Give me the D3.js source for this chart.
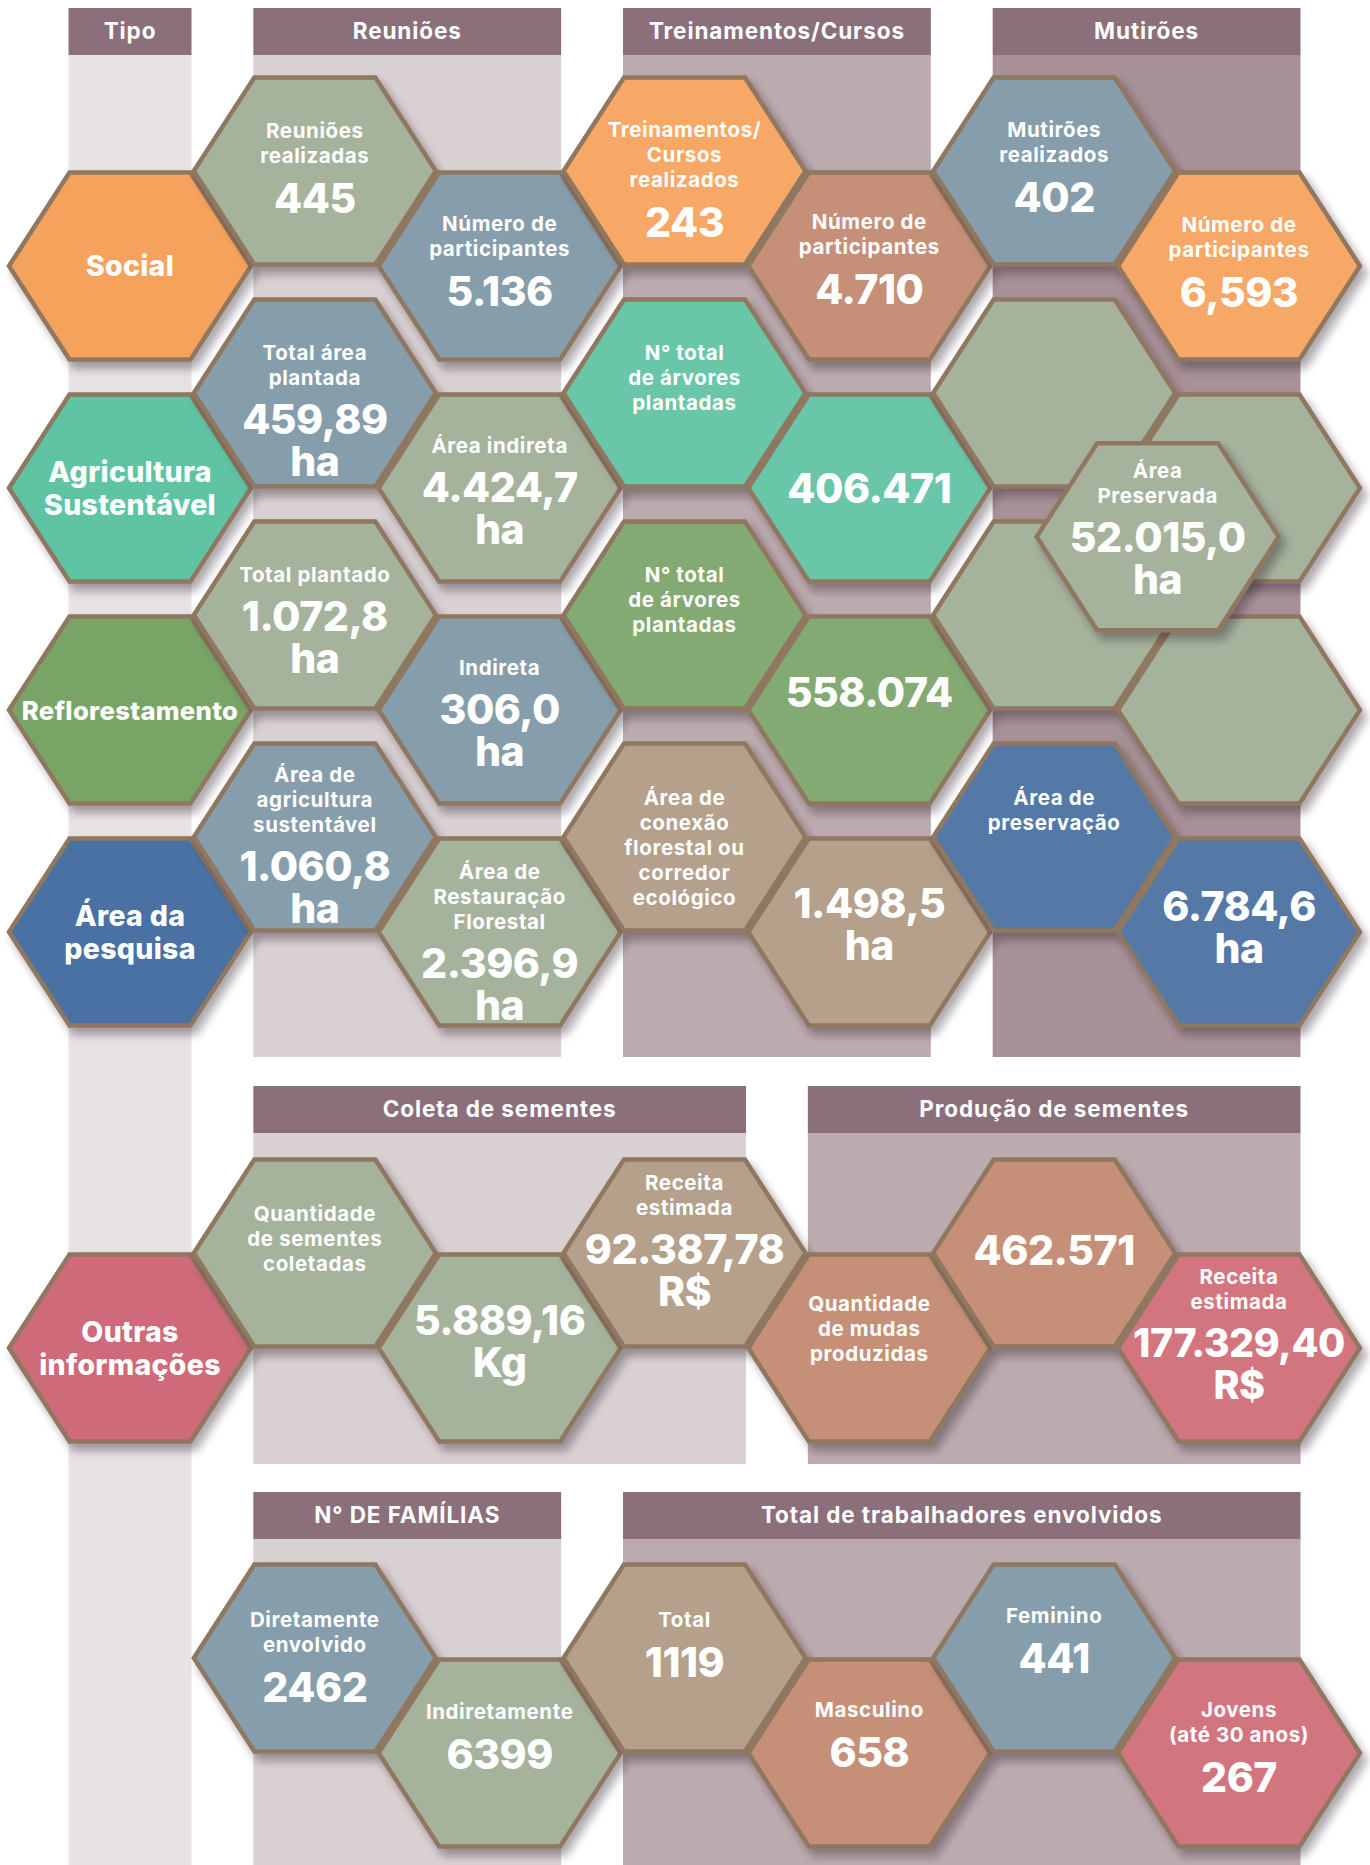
<!DOCTYPE html>
<html><head><meta charset="utf-8">
<script src="https://cdn.jsdelivr.net/npm/d3@7"></script>
<style>
html,body{margin:0;padding:0;background:#fff;}
svg{display:block;}
text{font-family:Inter,"Open Sans",sans-serif;fill:#fff;}
.vbox{font-family:Inter,"Open Sans",sans-serif;color:#fff;font-weight:800;text-align:center;white-space:pre;letter-spacing:-0.5px;margin:0;padding:0;}
</style></head><body><div id="chart"></div>
<script>
// ---------- DATA ----------
const headersTop = ["Tipo", "Reuniões", "Treinamentos/Cursos", "Mutirões"];
const headersMid = ["Coleta de sementes", "Produção de sementes"];
const headersBottom = ["N° DE FAMÍLIAS", "Total de trabalhadores envolvidos"];

const tipos = ["Social", "Agricultura\nSustentável", "Reflorestamento", "Área da\npesquisa", "Outras\ninformações"];
const tipoTones = ["orange", "teal", "green", "blue", "pink"];

const rowSocial = [
  {label: "Reuniões\nrealizadas", value: "445", tone: "sage"},
  {label: "Número de\nparticipantes", value: "5.136", tone: "slate"},
  {label: "Treinamentos/\nCursos\nrealizados", value: "243", tone: "orange2"},
  {label: "Número de\nparticipantes", value: "4.710", tone: "terra"},
  {label: "Mutirões\nrealizados", value: "402", tone: "slate"},
  {label: "Número de\nparticipantes", value: "6,593", tone: "orange2"}
];
const rowAgricultura = [
  {label: "Total área\nplantada", value: "459,89\nha", tone: "slate"},
  {label: "Área indireta", value: "4.424,7\nha", tone: "sage"},
  {label: "N° total\nde árvores\nplantadas", value: "", tone: "teal2"},
  {label: "", value: "406.471", tone: "teal2"},
  {label: "", value: "", tone: "sage"},
  {label: "", value: "", tone: "sage"}
];
const rowReflorestamento = [
  {label: "Total plantado", value: "1.072,8\nha", tone: "sage"},
  {label: "Indireta", value: "306,0\nha", tone: "slate"},
  {label: "N° total\nde árvores\nplantadas", value: "", tone: "green2"},
  {label: "", value: "558.074", tone: "green2"},
  {label: "", value: "", tone: "sage"},
  {label: "", value: "", tone: "sage"}
];
const rowPesquisa = [
  {label: "Área de\nagricultura\nsustentável", value: "1.060,8\nha", tone: "slate"},
  {label: "Área de\nRestauração\nFlorestal", value: "2.396,9\nha", tone: "sage"},
  {label: "Área de\nconexão\nflorestal ou\ncorredor\necológico", value: "", tone: "tan"},
  {label: "", value: "1.498,5\nha", tone: "tan"},
  {label: "Área de\npreservação", value: "", tone: "blue2"},
  {label: "", value: "6.784,6\nha", tone: "blue2"}
];
const areaPreservada = {label: "Área\nPreservada", value: "52.015,0\nha", tone: "sage"};

const rowSementes = [
  {label: "Quantidade\nde sementes\ncoletadas", value: "", tone: "sage"},
  {label: "", value: "5.889,16\nKg", tone: "sage"},
  {label: "Receita\nestimada", value: "92.387,78\nR$", tone: "tan"},
  {label: "Quantidade\nde mudas\nproduzidas", value: "", tone: "terra"},
  {label: "", value: "462.571", tone: "terra"},
  {label: "Receita\nestimada", value: "177.329,40\nR$", tone: "pink2"}
];
const rowFamiliasTrabalhadores = [
  {label: "Diretamente\nenvolvido", value: "2462", tone: "slate"},
  {label: "Indiretamente", value: "6399", tone: "sage"},
  {label: "Total", value: "1119", tone: "tan"},
  {label: "Masculino", value: "658", tone: "terra"},
  {label: "Feminino", value: "441", tone: "slate"},
  {label: "Jovens\n(até 30 anos)", value: "267", tone: "pink2"}
];

// ---------- STYLE / LAYOUT ----------
const palette = {
  orange: "#f5a35b", orange2: "#f7a866", sage: "#a6b39c", slate: "#869dab",
  terra: "#c68f77", teal: "#5ec4a3", teal2: "#6bc6a9", green: "#78a466",
  green2: "#83aa72", tan: "#b5a08c", blue: "#4a71a3", blue2: "#5579a6",
  pink: "#ce6a7a", pink2: "#d3747f"
};
const headerFill = "#8b6f7a";
const bandFills = {tipo: "#e7e2e4", light: "#d9d0d2", mid: "#bbaaae", dark: "#a79196"};
const strokeCol = "#8f7760";

// first-line vertical offsets (text layout) per column 1..6
const shiftSocial = [-40, -42, -41, -44, -41, -41];
const shiftAgri = [-40, -42, -40, 0, 0, 0];
const shiftRefl = [-40, -42, -40, -18, 0, 0];
const shiftPesq = [-62, -60, -39, -28, -39, -25];
const shiftSem = [-39, -27, -70, -44, -3, -71];
const shiftFam = [-38, -41, -38, -43, -42, -43];

const W = 1370, H = 1865;
const R = 121, HH = 93.5;
const colX = d3.scaleLinear().domain([0, 6]).range([130, 1239]);
const rowY = d3.scaleLinear().domain([0, 3]).range([266, 932]);
const midY = 1348, botY = 1753, stagger = 95;

const svg = d3.select("#chart").append("svg").attr("width", W).attr("height", H);
const defs = svg.append("defs");
defs.append("filter").attr("id", "sh").attr("x", "-20%").attr("y", "-20%").attr("width", "150%").attr("height", "160%")
  .append("feDropShadow").attr("dx", 5).attr("dy", 7).attr("stdDeviation", 4.5)
  .attr("flood-color", "#2b1f24").attr("flood-opacity", 0.38);

// bands + headers
const bandLeft = c => colX(c) - R / 2 - 1;
const bandRight = c => colX(c) + R / 2 + 1;
const sections = [
  {names: headersTop, cols: [[0,0],[1,2],[3,4],[5,6]], fills: ["tipo","light","mid","dark"], hy: 8, y1: 1057},
  {names: headersMid, cols: [[1,3],[4,6]], fills: ["light","mid"], hy: 1086, y1: 1464},
  {names: headersBottom, cols: [[1,2],[3,6]], fills: ["light","mid"], hy: 1492, y1: 1865}
];
const gBands = svg.append("g");
gBands.append("rect").attr("x", bandLeft(0)).attr("width", bandRight(0) - bandLeft(0))
  .attr("y", 55).attr("height", H - 55).attr("fill", bandFills.tipo);
sections.forEach(s => {
  s.names.forEach((n, i) => {
    const [a, b] = s.cols[i];
    const x0 = bandLeft(a), x1 = bandRight(b);
    if (s.fills[i] !== "tipo") {
      gBands.append("rect").attr("x", x0).attr("width", x1 - x0).attr("y", s.hy + 47)
        .attr("height", s.y1 - s.hy - 47).attr("fill", bandFills[s.fills[i]]);
    }
    gBands.append("rect").attr("x", x0).attr("width", x1 - x0).attr("y", s.hy)
      .attr("height", 47).attr("fill", headerFill);
    gBands.append("text").attr("x", (x0 + x1) / 2).attr("y", s.hy + 31)
      .attr("text-anchor", "middle").attr("font-size", 22.5).attr("letter-spacing", 0.9)
      .attr("font-weight", 700).text(n);
  });
});

const line = d3.line().curve(d3.curveLinearClosed);
const hexPts = (cx, cy) => [[cx - R, cy], [cx - R / 2, cy - HH], [cx + R / 2, cy - HH],
  [cx + R, cy], [cx + R / 2, cy + HH], [cx - R / 2, cy + HH]];

const gHex = svg.append("g");

function fit(t, maxW) {
  const len = t.node().getComputedTextLength();
  if (len > maxW) {
    const fs = parseFloat(t.attr("font-size"));
    t.attr("font-size", fs * maxW / len);
  }
}

function hex(cx, cy, tone) {
  const g = gHex.append("g");
  g.append("path").attr("d", line(hexPts(cx, cy))).attr("fill", palette[tone])
    .attr("stroke", strokeCol).attr("stroke-width", 4.5).attr("stroke-linejoin", "miter")
    .attr("filter", "url(#sh)");
  return g;
}

// one <text> per block, lines as tspans
function block(g, cx, yFirst, lines, step, size, weight, maxW, capHalf, ls) {
  if (!lines.length) return;
  const t = g.append("text").attr("text-anchor", "middle");
  lines.forEach((l, k) => {
    const ts = t.append("tspan").attr("x", cx).attr("y", yFirst + k * step + capHalf)
      .attr("font-size", size).attr("font-weight", weight).text(l);
    if (ls) ts.attr("letter-spacing", ls);
    fit(ts, maxW);
  });
}

// multi-line big values: a single HTML text node inside foreignObject
function valueBlock(g, cx, yFirst, text, size, step, maxW) {
  // measure widest line with a temporary svg text
  const tmp = svg.append("text").attr("font-size", size).attr("font-weight", 800).attr("letter-spacing", -0.5);
  let widest = 0;
  text.split("\n").forEach(l => { tmp.text(l); widest = Math.max(widest, tmp.node().getComputedTextLength()); });
  tmp.remove();
  const fs = widest > maxW ? size * maxW / widest : size;
  const baseOff = (step - 1.2109 * fs) / 2 + 0.96875 * fs; // baseline from line-box top
  const capHalf = 0.364 * fs;
  const w = 260;
  g.append("foreignObject").attr("x", cx - w / 2).attr("y", yFirst + capHalf - baseOff)
    .attr("width", w).attr("height", step * 2 + 10)
    .append("xhtml:div").attr("class", "vbox")
    .style("font-size", fs + "px").style("line-height", step + "px")
    .text(text);
}

function cellText(g, cx, cy, cell, shift) {
  const labels = cell.label ? cell.label.split("\n") : [];
  const values = cell.value ? cell.value.split("\n") : [];
  let y = cy + shift;
  block(g, cx, y, labels, 25, 20.5, 700, 205, 7.3, 0.6);
  if (labels.length) y += (labels.length - 1) * 25 + 42;
  if (values.length > 1) valueBlock(g, cx, y, cell.value, 41, 41.5, 212);
  else block(g, cx, y, values, 41.5, 41, 800, 212, 15, -0.5);
}

function tipoHex(i, cy) {
  const cx = colX(0);
  const g = hex(cx, cy, tipoTones[i]);
  const lines = tipos[i].split("\n");
  block(g, cx, cy - (lines.length - 1) / 2 * 33, lines, 33, 28.5, 800, 216, 10.3, 0.3);
}

function drawRow(cells, shifts, baseY) {
  cells.forEach((cell, i) => {
    const c = i + 1;
    const cx = colX(c), cy = c % 2 ? baseY - stagger : baseY;
    const g = hex(cx, cy, cell.tone);
    cellText(g, cx, cy, cell, shifts[i]);
  });
}

const topRows = [[rowSocial, shiftSocial], [rowAgricultura, shiftAgri],
  [rowReflorestamento, shiftRefl], [rowPesquisa, shiftPesq]];
topRows.forEach(([cells, shifts], r) => {
  tipoHex(r, rowY(r));
  drawRow(cells, shifts, rowY(r));
});
{
  const cx = colX(5.56), cy = rowY(1.22);
  const g = hex(cx, cy, areaPreservada.tone);
  cellText(g, cx, cy, areaPreservada, -66);
}
tipoHex(4, midY);
drawRow(rowSementes, shiftSem, midY);
drawRow(rowFamiliasTrabalhadores, shiftFam, botY);
</script></body></html>
